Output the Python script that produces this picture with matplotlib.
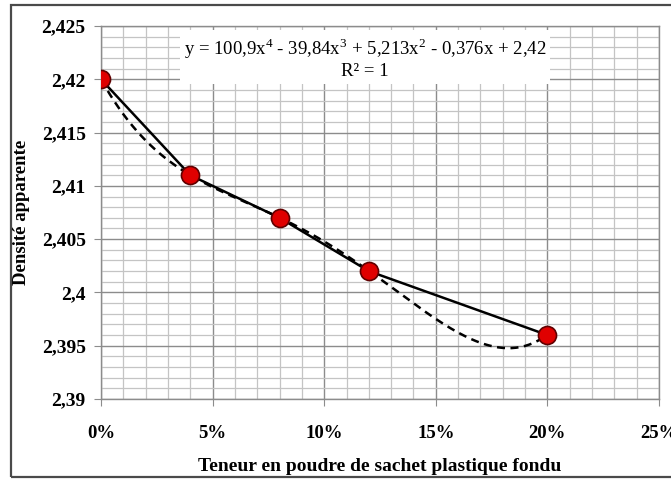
import matplotlib
matplotlib.use("Agg")
import matplotlib.pyplot as plt
import matplotlib.ticker as mticker
from matplotlib.patches import Rectangle
import numpy as np

# data
teneur = [0.00, 0.04, 0.08, 0.12, 0.20]
densite = [2.420, 2.411, 2.407, 2.402, 2.396]
# polynomial trendline coefficients (as shown on the chart)
trend_coef = [100.9, -39.84, 5.213, -0.376, 2.42]
eq_text = "y = 100,9x$^4$ - 39,84x$^3$ + 5,213x$^2$ - 0,376x + 2,42\nR² = 1"

plt.rcParams["font.family"] = ["Liberation Serif", "DejaVu Serif"]
plt.rcParams["mathtext.fontset"] = "custom"
plt.rcParams["mathtext.rm"] = "Liberation Serif"

MAJ = "#8c8c8c"; MIN = "#c4c4c4"

fig = plt.figure(figsize=(6.71, 4.79), dpi=100)
ax = fig.add_axes([101/671, 1-399/479, 558/671, 373/479])

# outer frame
fig.patches.append(Rectangle((11/671, 2/479), 0.99, 1-7/479, transform=fig.transFigure,
                             fill=False, edgecolor="#4a4a4a", linewidth=1.6))

xs = np.linspace(0, 0.2, 200)
ax.plot(xs, np.polyval(trend_coef, xs), color="black", linewidth=1.8,
        linestyle=(0, (3.2, 2.2)), zorder=3)
ax.plot(teneur, densite, color="black", linewidth=1.8, zorder=4)
ax.plot(teneur, densite, "o", color="#e00000", markeredgecolor="#600000",
        markeredgewidth=1.2, markersize=13, zorder=5)

ax.set_xlim(0, 0.25); ax.set_ylim(2.39, 2.425)
ax.xaxis.set_major_locator(mticker.MultipleLocator(0.05))
ax.xaxis.set_minor_locator(mticker.MultipleLocator(0.01))
ax.yaxis.set_major_locator(mticker.MultipleLocator(0.005))
ax.yaxis.set_minor_locator(mticker.MultipleLocator(0.001))
ax.xaxis.set_major_formatter(mticker.FuncFormatter(lambda v, p: f"{v*100:.0f}%"))
ax.yaxis.set_major_formatter(mticker.FuncFormatter(
    lambda v, p: f"{v:.3f}".rstrip("0").rstrip(".").replace(".", ",")))

ax.grid(True, which="major", color=MAJ, linewidth=1.0, zorder=0)
ax.grid(True, which="minor", color=MIN, linewidth=0.9, zorder=0)
ax.set_axisbelow(True)
for s in ax.spines.values():
    s.set_color(MAJ); s.set_linewidth(1.0)
ax.tick_params(which="major", length=5, color=MAJ)
ax.tick_params(which="minor", length=0)
ax.tick_params(axis="x", pad=14, labelsize=13.5)
ax.tick_params(axis="y", pad=6, labelsize=14)
for lab in ax.get_xticklabels() + ax.get_yticklabels():
    lab.set_fontweight("bold")

ax.set_xlabel("Teneur en poudre de sachet plastique fondu", fontsize=14,
              fontweight="bold", labelpad=11)
ax.set_ylabel("Densité apparente", fontsize=13.5, fontweight="bold")
ax.yaxis.set_label_coords(-0.128, 0.5)

ax.text(0.473, 0.915, eq_text, transform=ax.transAxes, ha="center", va="center",
        fontsize=13.5, linespacing=1.15, zorder=6,
        bbox=dict(facecolor="white", edgecolor="none", pad=3))

fig.savefig("out.png", dpi=100)
